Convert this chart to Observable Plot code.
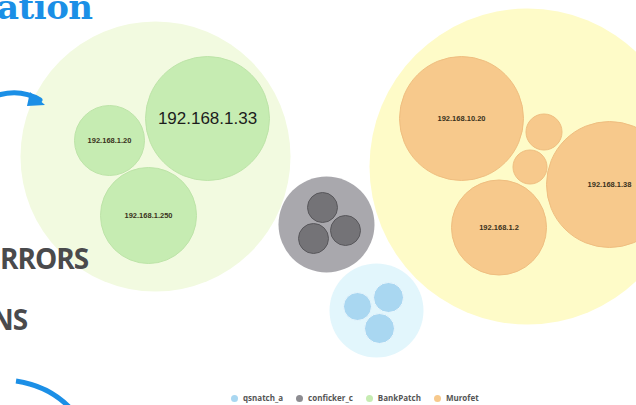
<!DOCTYPE html>
<html>
<head>
<meta charset="utf-8">
<script src="https://cdn.jsdelivr.net/npm/d3@7"></script>
<script src="https://cdn.jsdelivr.net/npm/@observablehq/plot@0.6"></script>
<style>
  html, body { margin: 0; padding: 0; background: #fff; }
  body { width: 636px; height: 405px; position: relative; overflow: hidden; font-family: "Open Sans", sans-serif; }
  #chart { position: absolute; left: 0; top: 0; }
  .deco { position: absolute; margin: 0; white-space: nowrap; line-height: 1; }
  #title { left: -3px; top: -10px; font-family: "DejaVu Serif", serif; font-weight: bold; font-size: 34px; color: #1b8fe6; letter-spacing: -0.5px; }
  .bold { font-family: "Open Sans", sans-serif; font-weight: 700; font-size: 28px; color: #4a4a4c; letter-spacing: -1px; }
  #t1 { left: 0px; top: 244px; }
  #t2 { left: -9px; top: 305px; }
  #arrows { position: absolute; left: 0; top: 0; pointer-events: none; }
  #legend { position: absolute; top: 393px; left: 231px; display: flex; align-items: center; font-family: "Open Sans", sans-serif; font-weight: 700; font-size: 8px; line-height: 10px; color: #555; }
  #legend .item { display: flex; align-items: center; margin-right: 13px; }
  #legend .sw { width: 7px; height: 7px; border-radius: 50%; margin-right: 5px; }
</style>
</head>
<body>
<div id="chart"></div>
<p id="title" class="deco">ation</p>
<p id="t1" class="deco bold">RRORS</p>
<p id="t2" class="deco bold">NS</p>
<svg id="arrows" width="636" height="405">
  <path d="M -5 96 Q 20 88 40 100" fill="none" stroke="#1b8fe6" stroke-width="5" stroke-linecap="round"/>
  <path d="M 30 92 L 45 105 L 27 106 Z" fill="#1b8fe6"/>
  <path d="M 16 381 Q 50 386 72 410" fill="none" stroke="#1b8fe6" stroke-width="5"/>
</svg>
<div id="legend"></div>
<script>
// Malware families (clusters)
const clusters = ["qsnatch_a", "conficker_c", "BankPatch", "Murofet"];
const clusterX = [376, 326, 155, 527];
const clusterY = [310, 224, 156, 166];
const clusterSize = [47, 48, 135, 158];

// Infected hosts (children)
const hostCluster = ["qsnatch_a", "qsnatch_a", "qsnatch_a",
                     "conficker_c", "conficker_c", "conficker_c",
                     "BankPatch", "BankPatch", "BankPatch",
                     "Murofet", "Murofet", "Murofet", "Murofet", "Murofet"];
const hostName = ["", "", "",
                  "", "", "",
                  "192.168.1.33", "192.168.1.20", "192.168.1.250",
                  "192.168.10.20", "", "", "192.168.1.38", "192.168.1.2"];
const hostX = [357, 388, 379,  322, 313, 345,  207, 109, 148,  461, 543.5, 529.5, 609, 498.5];
const hostY = [306, 297, 328,  207, 238, 230,  118, 140, 215,  118, 131.5, 166.5, 184, 227];
const hostSize = [14, 15, 15,  15, 15, 15,  62, 35, 48,  62, 18, 17, 63, 47.5];
const highlightedHost = "192.168.1.33";

// styles
const outerColors = ["#e2f6fc", "#a9a8ad", "#f2fae0", "#fefbc8"];
const innerColors = ["#a9d7f1", "#747377", "#c6ecb2", "#f7c98c"];
const innerStrokes = ["#e8f6fd", "#58575b", "#bde4a8", "#efbe80"];

const outer = clusters.map((c, i) => ({cluster: c, x: clusterX[i], y: clusterY[i], r: clusterSize[i]}));
const hosts = hostName.map((n, i) => ({cluster: hostCluster[i], name: n, x: hostX[i], y: hostY[i], r: hostSize[i]}));

const innerFill = d3.scaleOrdinal(clusters, innerColors);
const innerStroke = d3.scaleOrdinal(clusters, innerStrokes);

const W = 636, H = 390;
const chart = Plot.plot({
  width: W,
  height: H,
  margin: 0,
  style: {background: "transparent", overflow: "visible"},
  x: {domain: [0, W], range: [0, W], axis: null},
  y: {domain: [0, H], range: [0, H], axis: null},
  r: {type: "linear", domain: [0, 200], range: [0, 200]},
  color: {domain: clusters, range: outerColors},
  marks: [
    Plot.dot(outer, {x: "x", y: "y", r: "r", fill: "cluster", stroke: "none"}),
    Plot.dot(hosts, {x: "x", y: "y", r: "r", fill: d => innerFill(d.cluster), stroke: d => innerStroke(d.cluster), strokeWidth: 1}),
    Plot.text(hosts.filter(d => d.name && d.name !== highlightedHost), {
      x: "x", y: "y", text: "name", fontSize: 7.5, fontWeight: "bold",
      fontFamily: "Liberation Sans, sans-serif", fill: "#3a3220"
    }),
    Plot.text(hosts.filter(d => d.name === highlightedHost), {
      x: "x", y: "y", text: "name", fontSize: 17,
      fontFamily: "Liberation Sans, sans-serif", fill: "#1c1c1c"
    })
  ]
});
document.getElementById("chart").appendChild(chart);

const legendColors = ["#a9d7f1", "#8d8c91", "#c6ecb2", "#f7c98c"];
const legend = document.getElementById("legend");
clusters.forEach((c, i) => {
  const item = document.createElement("div");
  item.className = "item";
  const sw = document.createElement("span");
  sw.className = "sw";
  sw.style.background = legendColors[i];
  const t = document.createElement("span");
  t.textContent = c;
  item.appendChild(sw);
  item.appendChild(t);
  legend.appendChild(item);
});
</script>
</body>
</html>
